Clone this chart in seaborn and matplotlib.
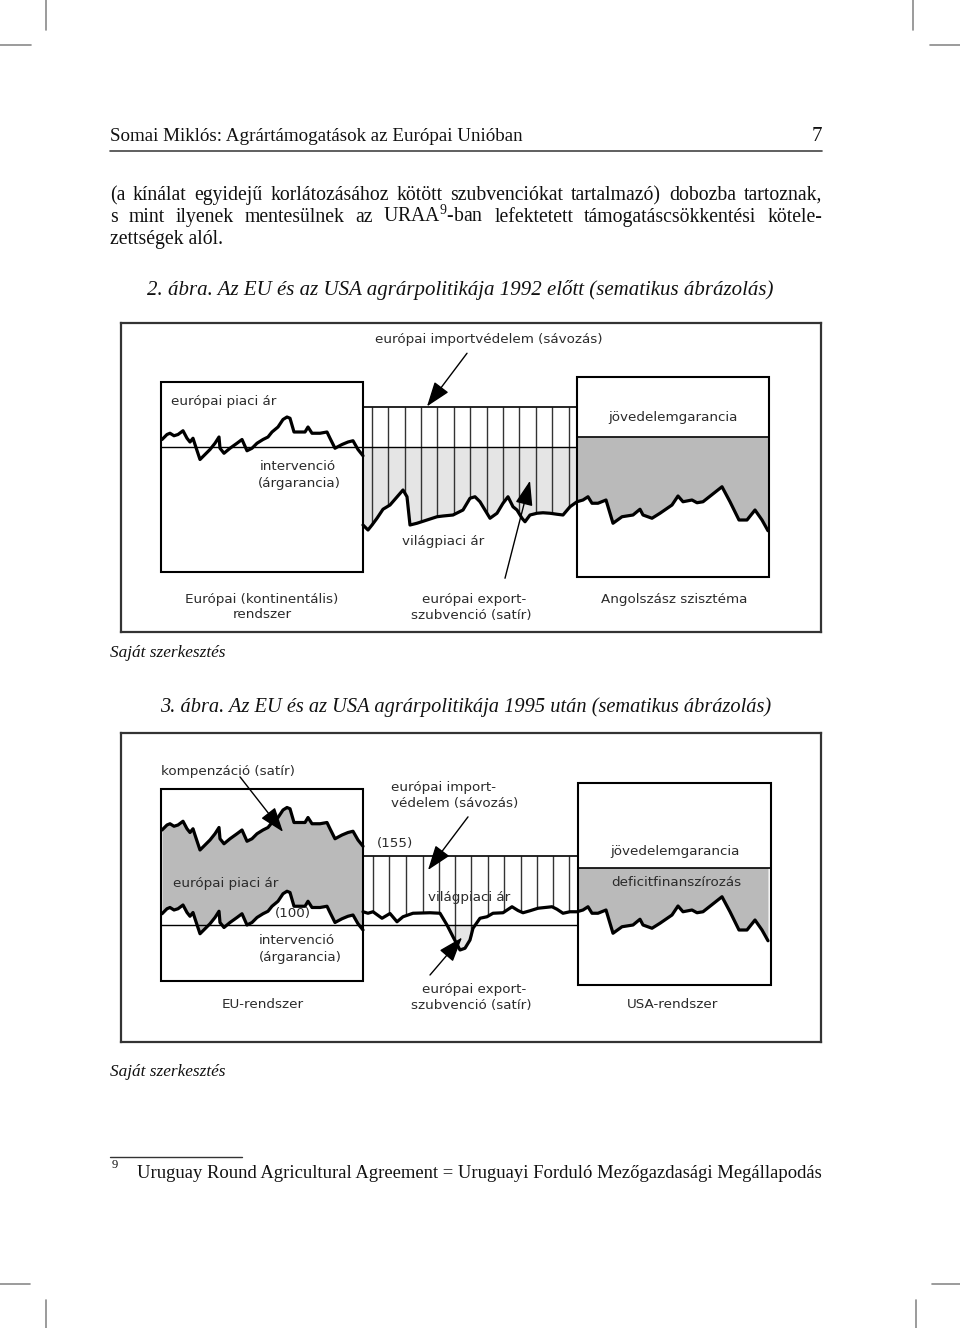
import numpy as np
import matplotlib
matplotlib.use("Agg")
import matplotlib.pyplot as plt
from matplotlib.patches import Rectangle
import seaborn as sns

sns.set_style("white")
plt.rcParams['font.family'] = ['DejaVu Sans']
plt.rcParams['mathtext.fontset'] = 'custom'
plt.rcParams['mathtext.rm'] = 'Liberation Serif'

# price levels (intervention price = 100)
INTERVENTION = 100
THRESHOLD_1992 = 132
THRESHOLD_1995 = 155
INCOME_GUAR_1992 = 108
INCOME_GUAR_1995 = 146

# european market price (time steps across the frame)
EU_T = [41, 46, 49, 53, 57, 62, 66, 69, 72, 74, 79, 84, 89, 94, 98, 99, 103, 109, 116, 121,
        126, 131, 136, 142, 147, 151, 154, 157, 162, 166, 169, 173, 177, 184, 187, 191, 196, 199,
        206, 209, 214, 221, 227, 232, 237, 242]
EU_P_1992 = [106, 110, 111, 109, 110, 113, 107, 104, 107, 102, 90, 94, 98, 103, 108, 99, 95, 99,
             103, 106, 97, 99, 103, 106, 108, 112, 114, 116, 122, 124, 123, 112, 112, 112, 116,
             111, 111, 111, 112, 107, 99, 102, 104, 105, 98, 93]
EU_P_1995_LOW = [109, 113, 114, 112, 113, 116, 110, 107, 110, 105, 93, 97, 101, 106, 111, 102, 98,
                 102, 106, 109, 100, 102, 106, 109, 111, 115, 117, 119, 125, 127, 126, 115, 115,
                 115, 119, 114, 114, 114, 115, 110, 102, 105, 107, 108, 101, 96]
EU_P_1995_HIGH = [176, 180, 181, 179, 180, 183, 177, 174, 177, 172, 160, 164, 168, 173, 178, 169,
                  165, 169, 173, 176, 167, 169, 173, 176, 178, 182, 184, 186, 192, 194, 193, 182,
                  182, 182, 186, 181, 181, 181, 182, 177, 169, 172, 174, 175, 168, 163]

# world market price, middle section
WORLD_T_1992 = [242, 247, 251, 256, 262, 269, 274, 282, 286, 289, 296, 306, 316, 322, 332, 342,
                349, 354, 359, 362, 369, 376, 382, 387, 392, 396, 401, 404, 409, 416, 422, 429,
                436, 442, 449, 456]
WORLD_P_1992 = [37.6, 33.6, 37.6, 43, 50.2, 53.6, 58.2, 65.6, 60.2, 37.6, 39, 41.6, 44.2, 44.8,
                45.6, 49.6, 59, 60.2, 56.2, 52.2, 43, 47, 55, 60.2, 52.2, 49.6, 43, 40.2, 45.6,
                47, 47.4, 47, 46.2, 45.6, 52.2, 56.2]
WORLD_T_1995 = [242, 247, 252, 261, 269, 276, 282, 292, 309, 319, 326, 332, 339, 344, 349, 352,
                359, 366, 372, 382, 391, 397, 402, 409, 417, 431, 436, 442, 449, 456]
WORLD_P_1995 = [110.6, 109.4, 110.6, 105.4, 109.2, 102.6, 106.6, 109.4, 109.8, 109.4, 100, 90.6,
                80, 81.4, 88, 97.4, 105.4, 106.6, 109.4, 109.8, 114.6, 111.6, 109.8, 111.4,
                113.4, 114.6, 112.6, 109.4, 110.6, 110.6]

# US market price
US_T = [456, 462, 467, 471, 477, 485, 492, 501, 512, 519, 522, 531, 539, 551, 557, 562, 571,
        576, 582, 601, 609, 618, 626, 634, 641, 647]
US_P_1992 = [56.2, 57.6, 60.2, 55, 55, 57.6, 39, 44.2, 45.6, 50.2, 45.6, 43, 47, 53.6, 60.8,
             56.2, 57.6, 55.4, 56.2, 68.2, 56.2, 41.6, 41.6, 49.6, 41.6, 33]
US_P_1995 = [110.6, 112, 114.6, 109.4, 109.4, 112, 93.4, 98.6, 100, 104.6, 100, 97.4, 101.4, 108,
             115.2, 110.6, 112, 109.8, 110.6, 122.6, 110.6, 96, 96, 104, 96, 87.4]

# import levy hatching
HATCH_T_1992 = [251, 267, 284, 300, 316, 333, 349, 366, 382, 398, 415, 431, 448]
HATCH_T_1995 = [252, 268, 285, 302, 318, 334, 350, 367, 383, 400, 416, 432, 448]

W, H = 960, 1328
DARK = '#bababa'
LIGHT = '#e5e5e5'
TXT = '#2b2b2b'
SERIF = ['Liberation Serif']

fig = plt.figure(figsize=(W / 100, H / 100), dpi=100)
page = fig.add_axes([0, 0, 1, 1])
page.set_xlim(0, W)
page.set_ylim(H, 0)
page.axis('off')
px = page.transData


def frame_axes(left, top, right, bottom, p_bottom, p_top):
    ax = fig.add_axes([left / W, 1 - bottom / H, (right - left) / W, (bottom - top) / H])
    ax.set_xlim(0, 700)
    ax.set_ylim(p_bottom, p_top)
    ax.set_facecolor('none')
    ax.set_xticks([])
    ax.set_yticks([])
    for s in ax.spines.values():
        s.set_visible(True)
        s.set_color('#333333')
        s.set_linewidth(1.6)
    return ax


def box(ax, t0, t1, p0, p1):
    ax.add_patch(Rectangle((t0, p0), t1 - t0, p1 - p0, fill=False, ec='k', lw=1.5, zorder=4))


def curve(ax, t, p):
    sns.lineplot(x=t, y=p, ax=ax, color='k', lw=2.3, estimator=None, sort=False, zorder=5)


def label(ax, x, y, s, ha='center', z=6):
    ax.text(x, y, s, transform=px, ha=ha, va='center', fontsize=9.7, color=TXT, zorder=z)


def arrow(ax, tip, tail):
    ax.annotate('', xy=tip, xytext=tail,
                arrowprops=dict(arrowstyle='-|>,head_length=0.9,head_width=0.32', color='k',
                                lw=1, shrinkA=0, shrinkB=0, mutation_scale=17), zorder=7)


def justify(y, text, x0, x1, **kw):
    r = fig.canvas.get_renderer()
    arts = [page.text(0, y, w, **kw) for w in text.split()]
    widths = [a.get_window_extent(r).width for a in arts]
    gap = (x1 - x0 - sum(widths)) / (len(arts) - 1)
    x = x0
    for a, w in zip(arts, widths):
        a.set_x(x)
        x += w + gap


# ---------------- diagram 1 (before 1992)
ax1 = frame_axes(121, 323, 821, 632, -48, 199.2)
ax1.fill_between(WORLD_T_1992, WORLD_P_1992, INTERVENTION, color=LIGHT, lw=0, zorder=1)
ax1.fill_between(US_T, US_P_1992, INCOME_GUAR_1992, color=DARK, lw=0, zorder=1)
ax1.vlines(HATCH_T_1992, np.interp(HATCH_T_1992, WORLD_T_1992, WORLD_P_1992), THRESHOLD_1992,
           color='#333333', lw=1.0, zorder=3)
ax1.hlines(INTERVENTION, 40, 456, color='k', lw=1.0, zorder=3)
ax1.hlines(THRESHOLD_1992, 242, 456, color='k', lw=1.2, zorder=3)
ax1.hlines(INCOME_GUAR_1992, 456, 648, color='k', lw=1.2, zorder=3)
box(ax1, 40, 242, 0, 152)
box(ax1, 456, 648, -4, 156)
curve(ax1, EU_T, EU_P_1992)
curve(ax1, WORLD_T_1992 + US_T[1:], WORLD_P_1992 + US_P_1992[1:])
arrow(ax1, (306, 132.5), (346, 175))
arrow(ax1, (409, 73), (384, -5))

label(ax1, 489, 340, 'európai importvédelem (sávozás)')
label(ax1, 171, 402, 'európai piaci ár', ha='left')
label(ax1, 298, 467, 'intervenció')
label(ax1, 299, 484, '(árgarancia)')
label(ax1, 443, 541, 'világpiaci ár')
label(ax1, 673, 418, 'jövedelemgarancia')
label(ax1, 262, 600, 'Európai (kontinentális)')
label(ax1, 262, 615, 'rendszer')
label(ax1, 474, 600, 'európai export-')
label(ax1, 471, 615, 'szubvenció (satír)')
label(ax1, 674, 600, 'Angolszász szisztéma')

# ---------------- diagram 2 (after 1995)
ax2 = frame_axes(121, 733, 821, 1042, 6.4, 253.6)
ax2.fill_between(EU_T, EU_P_1995_LOW, EU_P_1995_HIGH, color=DARK, lw=0, zorder=1)
ax2.fill_between(WORLD_T_1995, WORLD_P_1995, INTERVENTION,
                 where=np.array(WORLD_P_1995) <= INTERVENTION, interpolate=True,
                 color=LIGHT, lw=0, zorder=1)
ax2.fill_between(US_T, US_P_1995, INCOME_GUAR_1995, color=DARK, lw=0, zorder=1)
ax2.vlines(HATCH_T_1995, np.interp(HATCH_T_1995, WORLD_T_1995, WORLD_P_1995), THRESHOLD_1995,
           color='#333333', lw=1.0, zorder=3)
ax2.hlines(INTERVENTION, 40, 457, color='k', lw=1.0, zorder=3)
ax2.hlines(THRESHOLD_1995, 242, 457, color='k', lw=1.2, zorder=3)
ax2.hlines(INCOME_GUAR_1995, 457, 650, color='k', lw=1.2, zorder=3)
box(ax2, 40, 242, 55, 209)
box(ax2, 457, 650, 52, 214)
curve(ax2, EU_T, EU_P_1995_HIGH)
curve(ax2, EU_T, EU_P_1995_LOW)
curve(ax2, WORLD_T_1995 + US_T[1:], WORLD_P_1995 + US_P_1995[1:])
arrow(ax2, (162, 174.5), (119, 218.5))
arrow(ax2, (307, 144), (347, 186.5))
arrow(ax2, (341, 90), (309, 60))

label(ax2, 161, 771, 'kompenzáció (satír)', ha='left')
label(ax2, 391, 788, 'európai import-', ha='left')
label(ax2, 391, 803, 'védelem (sávozás)', ha='left')
label(ax2, 377, 843, '(155)', ha='left')
label(ax2, 675, 852, 'jövedelemgarancia')
label(ax2, 676, 883, 'deficitfinanszírozás')
label(ax2, 173, 883, 'európai piaci ár', ha='left')
label(ax2, 428, 897, 'világpiaci ár', ha='left', z=2)
label(ax2, 275, 913, '(100)', ha='left')
label(ax2, 297, 940, 'intervenció')
label(ax2, 300, 957, '(árgarancia)')
label(ax2, 263, 1005, 'EU-rendszer')
label(ax2, 474, 989, 'európai export-')
label(ax2, 471, 1005, 'szubvenció (satír)')
label(ax2, 673, 1005, 'USA-rendszer')

# ---------------- page text
serif = dict(family=SERIF, color='#111111', va='baseline')
page.text(110, 141, 'Somai Miklós: Agrártámogatások az Európai Unióban', fontsize=13.7, **serif)
page.text(822, 141, '7', fontsize=15, ha='right', **serif)
page.plot([110, 822], [151, 151], color='#444444', lw=1.2)
justify(200, '(a kínálat egyidejű korlátozásához kötött szubvenciókat tartalmazó) dobozba tartoznak,',
        110, 822, fontsize=14.2, **serif)
justify(222, r's mint ilyenek mentesülnek az URAA$^{\mathrm{9}}$-ban lefektetett támogatáscsökkentési kötele-',
        110, 822, fontsize=14.2, **serif)
page.text(110, 244, 'zettségek alól.', fontsize=14.2, **serif)
page.text(460, 295, '2. ábra. Az EU és az USA agrárpolitikája 1992 előtt (sematikus ábrázolás)',
          fontsize=15, style='italic', ha='center', **serif)
page.text(110, 657, 'Saját szerkesztés', fontsize=12.4, style='italic', **serif)
page.text(465.5, 712, '3. ábra. Az EU és az USA agrárpolitikája 1995 után (sematikus ábrázolás)',
          fontsize=14.65, style='italic', ha='center', **serif)
page.text(110, 1076, 'Saját szerkesztés', fontsize=12.4, style='italic', **serif)
page.plot([110, 242], [1157, 1157], color='#333333', lw=1)
page.text(112, 1168, '9', fontsize=9, **serif)
page.text(137, 1178, 'Uruguay Round Agricultural Agreement = Uruguayi Forduló Mezőgazdasági Megállapodás',
          fontsize=13.42, **serif)

# crop marks
for x0, x1, y0, y1 in [(46, 46, 0, 30), (0, 31, 45, 45), (913, 913, 0, 30), (930, 960, 45, 45),
                       (0, 30, 1284, 1284), (46, 46, 1300, 1328), (932, 960, 1284, 1284),
                       (916, 916, 1300, 1328)]:
    page.plot([x0, x1], [y0, y1], color='#8a8a8a', lw=1.2)

fig.savefig('out.png', dpi=100)
